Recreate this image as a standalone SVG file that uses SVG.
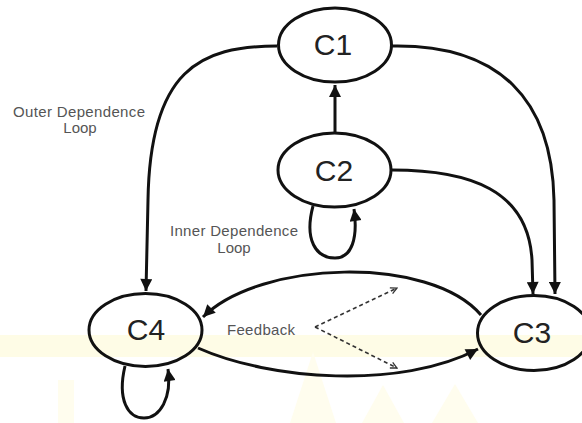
<svg xmlns="http://www.w3.org/2000/svg" width="582" height="423" viewBox="0 0 582 423">
<style>
.node ellipse{fill:none;stroke:#111;stroke-width:3}
.nl{font-family:"Liberation Sans",Arial,sans-serif;font-size:30px;fill:#222;text-anchor:middle}
.lbl{font-family:"Liberation Sans",Arial,sans-serif;font-size:15px;fill:#555;text-anchor:middle}
.edge{fill:none;stroke:#111;stroke-width:3}
.dash{fill:none;stroke:#333;stroke-width:1.6;stroke-dasharray:4 3}
.wm{fill:#fefce6}
.wm2{fill:#fffdee}
</style>
<defs>
<marker id="ah" viewBox="0 0 10 10" refX="10" refY="5" markerWidth="4.4" markerHeight="4" markerUnits="strokeWidth" orient="auto">
<path d="M0,0 L10,5 L0,10 z" fill="#111"/>
</marker>
<marker id="oh" viewBox="0 0 10 10" refX="9" refY="5" markerWidth="5" markerHeight="5" markerUnits="strokeWidth" orient="auto">
<path d="M1,1 L9,5 L1,9" fill="none" stroke="#333" stroke-width="1.6"/>
</marker>
</defs>
<rect width="582" height="423" fill="#fff"/>
<g id="watermark">
<rect class="wm" x="0" y="335" width="582" height="22"/>
<polygon class="wm2" points="313,352 290,423 336,423"/>
<polygon class="wm2" points="383,385 362,423 404,423"/>
<polygon class="wm2" points="455,384 432,423 478,423"/>
<rect class="wm2" x="58" y="380" width="16" height="43"/>
</g>
<g id="connectors">
<path class="edge" d="M335,132 L335,85" marker-end="url(#ah)"/>
<path class="edge" d="M392,46 C500,44 552,100 554,200 L555,294" marker-end="url(#ah)"/>
<path class="edge" d="M392,170 C470,170 528,190 532,260 L533,294" marker-end="url(#ah)"/>
<path class="edge" d="M277,46 C200,46 150,70 148,200 L146,291" marker-end="url(#ah)"/>
<path class="edge" d="M313,206 C304,240 316,258 335,258 C352,258 358,238 354,209" marker-end="url(#ah)"/>
<path class="edge" d="M125,366 C117,400 128,418 144,418 C160,418 172,398 168,369" marker-end="url(#ah)"/>
<path class="edge" d="M481,315 C430,255 260,260 203,317" marker-end="url(#ah)"/>
<path class="edge" d="M198,348 C270,380 400,390 478,349" marker-end="url(#ah)"/>
<path class="dash" d="M315,327 L397,288" marker-end="url(#oh)"/>
<path class="dash" d="M315,327 L397,368" marker-end="url(#oh)"/>
</g>
<g id="C1" class="node"><ellipse cx="335" cy="45" rx="56.5" ry="37"/><text class="nl" x="333" y="55">C1</text></g>
<g id="C2" class="node"><ellipse cx="334.5" cy="170" rx="56.5" ry="37"/><text class="nl" x="334" y="181">C2</text></g>
<g id="C3" class="node"><ellipse cx="534" cy="333" rx="56.5" ry="37.5"/><text class="nl" x="532" y="343">C3</text></g>
<g id="C4" class="node"><ellipse cx="145.5" cy="330" rx="56.5" ry="36.5"/><text class="nl" x="146" y="340">C4</text></g>
<g id="labels">
<text class="lbl" x="79" y="117" textLength="132">Outer Dependence</text>
<text class="lbl" x="80" y="133">Loop</text>
<text class="lbl" x="234" y="236" textLength="128">Inner Dependence</text>
<text class="lbl" x="234" y="253">Loop</text>
<text class="lbl" x="261" y="335" textLength="68">Feedback</text>
</g>
</svg>
